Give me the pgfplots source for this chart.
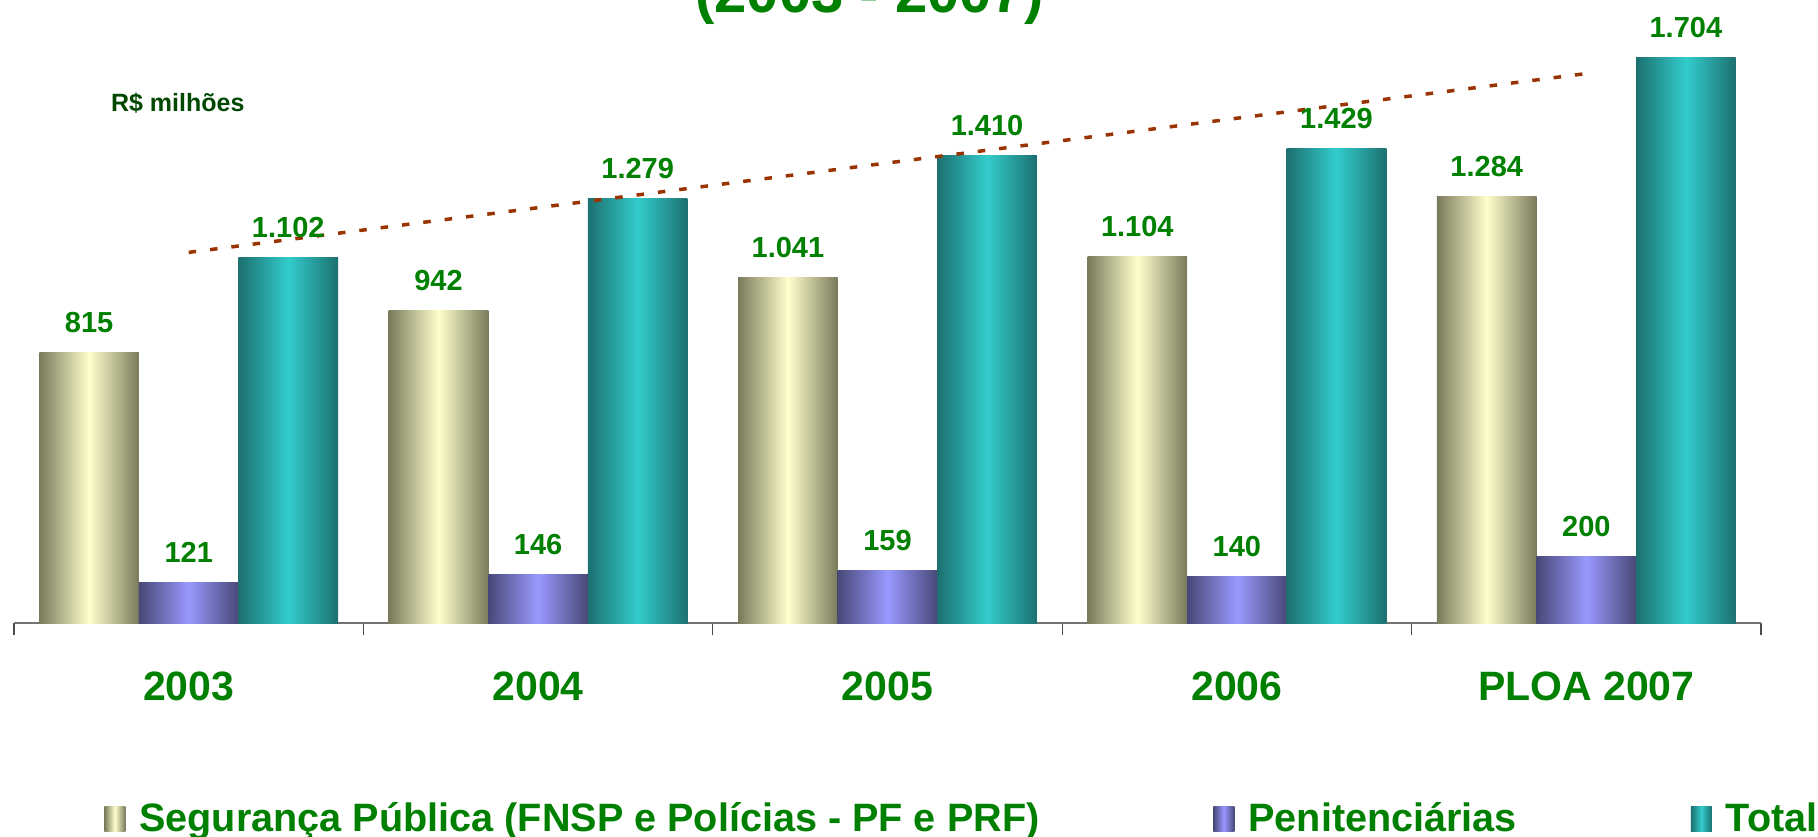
\documentclass[border=0pt]{standalone}
\usepackage{fontspec}
\setmainfont{Liberation Sans}
\usepackage{pgfplots}
\pgfplotsset{compat=1.18}

\definecolor{lab}{RGB}{0,128,0}
\definecolor{darklab}{RGB}{0,72,0}
\definecolor{trend}{RGB}{153,51,0}
\definecolor{yelD}{RGB}{122,122,92}
\definecolor{yelL}{RGB}{255,255,204}
\definecolor{purD}{RGB}{72,72,120}
\definecolor{purL}{RGB}{153,153,255}
\definecolor{tealD}{RGB}{28,112,112}
\definecolor{tealL}{RGB}{51,204,204}

% one \addplot per bar, so that every bar gets its own shading
\pgfplotsset{
  barleg/.style={legend image code/.code={\path[##1, draw=none] (0pt,0pt) rectangle (10.5pt,12.5pt);}},
  bar/.style={ybar, bar width=0.285, bar shift=0, draw=none, nodes near coords, barleg},
  yel/.style={bar, left color=yelD, right color=yelD, middle color=yelL},
  pur/.style={bar, left color=purD, right color=purD, middle color=purL},
  tea/.style={bar, left color=tealD, right color=tealD, middle color=tealL},
}

\begin{document}
\begin{tikzpicture}
\begin{axis}[
  scale only axis, width=873.5pt, height=311.5pt,
  xmin=-0.5, xmax=4.5, ymin=0, ymax=1877.6,
  axis y line=none, axis x line*=bottom,
  axis line style={black!55, line width=1pt},
  clip=false,
  xtick={0,...,4},
  xticklabels={2003,2004,2005,2006,PLOA 2007},
  minor xtick={-0.5,0.5,...,4.5},
  major tick length=0pt, minor tick length=6pt, tick align=outside,
  minor tick style={black!70, line width=0.6pt},
  xticklabel style={font=\bfseries\fontsize{20.5}{21}\selectfont, text=lab, anchor=base, yshift=-38.5pt},
  /pgf/number format/1000 sep={.},
  /pgf/number format/assume math mode=true,
  every node near coord/.append style={font=\bfseries\fontsize{14.5}{15}\selectfont, text=lab, anchor=base, yshift=10pt},
  legend columns=3,
  legend style={at={(axis description cs:0.0515,-0.313)}, anchor=west, draw=none, fill=none, inner sep=0pt,
    nodes={inner sep=0pt, anchor=base west, text=lab, font=\bfseries\fontsize{19.8}{20}\selectfont},
    /tikz/every odd column/.append style={column sep=7pt},
    /tikz/every even column/.append style={column sep=87pt}},
]
% 2003 (carries the legend entries)
\addplot[yel] coordinates {(-0.285,815)};
\addlegendentry{Segurança Pública (FNSP e Polícias - PF e PRF)}
\addplot[pur] coordinates {(0,121)};
\addlegendentry{Penitenciárias}
\addplot[tea] coordinates {(0.285,1102)};
\addlegendentry{Total}
% 2004
\addplot[yel, forget plot] coordinates {(0.715,942)};
\addplot[pur, forget plot] coordinates {(1,146)};
\addplot[tea, forget plot] coordinates {(1.285,1279)};
% 2005
\addplot[yel, forget plot] coordinates {(1.715,1041)};
\addplot[pur, forget plot] coordinates {(2,159)};
\addplot[tea, forget plot] coordinates {(2.285,1410)};
% 2006
\addplot[yel, forget plot] coordinates {(2.715,1104)};
\addplot[pur, forget plot] coordinates {(3,140)};
\addplot[tea, forget plot] coordinates {(3.285,1429)};
% PLOA 2007
\addplot[yel, forget plot] coordinates {(3.715,1284)};
\addplot[pur, forget plot] coordinates {(4,200)};
\addplot[tea, forget plot] coordinates {(4.285,1704)};
% linear trend of Total
\addplot[forget plot, color=trend, line width=1.75pt, dash pattern=on 3.75pt off 7pt]
  coordinates {(0,1117) (4,1656)};
\end{axis}
\node[anchor=base, font=\bfseries\fontsize{29}{30}\selectfont, text=lab] at (427.75pt,305pt) {(2003 - 2007)};
\node[anchor=base west, font=\bfseries\fontsize{12.5}{13}\selectfont, text=darklab] at (45pt,255.5pt) {R\$ milhões};
\pgfresetboundingbox
\useasboundingbox (-7pt,-106.5pt) rectangle (902pt,311.5pt);
\end{tikzpicture}
\end{document}
